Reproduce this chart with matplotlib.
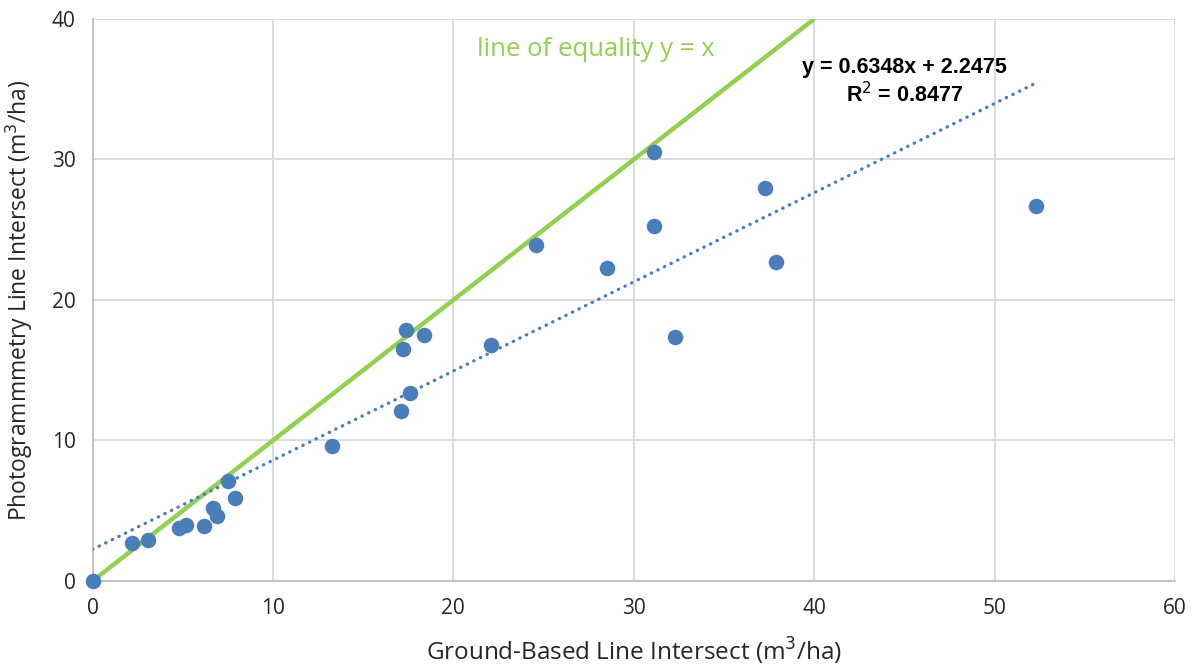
import matplotlib.pyplot as plt
import numpy as np

plt.rcParams['font.family'] = ['Open Sans', 'DejaVu Sans']

# ground-based vs photogrammetry line intersect volumes (m3/ha)
ground = [0.0, 2.2, 3.1, 4.8, 5.2, 6.2, 6.7, 6.9, 7.5, 7.9, 13.3, 17.1, 17.2,
          17.4, 17.6, 18.4, 22.1, 24.6, 28.5, 31.1, 31.1, 32.3, 37.3, 37.9, 52.3]
photo = [0.0, 2.7, 2.9, 3.8, 4.0, 3.9, 5.2, 4.6, 7.1, 5.9, 9.6, 12.1, 16.5,
         17.9, 13.4, 17.5, 16.8, 23.9, 22.3, 30.5, 25.3, 17.4, 28.0, 22.7, 26.7]

slope = 0.6348
intercept = 2.2475
r_squared = 0.8477

blue = '#4a7ebb'
green = '#92d050'
grey = '#d9d9d9'
text_col = '#262626'

fig = plt.figure(figsize=(11.97, 6.67), dpi=100)
ax = fig.add_axes([92.5 / 1197, 86 / 667, (1175 - 92.5) / 1197, (581 - 19) / 667])

ax.set_xlim(0, 60)
ax.set_ylim(0, 40)
ax.set_xticks(np.arange(0, 61, 10))
ax.set_yticks(np.arange(0, 41, 10))
ax.grid(True, color=grey, linewidth=1.3, zorder=0)
ax.set_axisbelow(True)
for side in ['top', 'right']:
    ax.spines[side].set_visible(False)
for side in ['left', 'bottom']:
    ax.spines[side].set_color('#bfbfbf')
    ax.spines[side].set_linewidth(1.3)
ax.tick_params(length=0, labelsize=15, colors=text_col, pad=12)

# line of equality
ax.plot([0, 40], [0, 40], color=green, linewidth=3.2, zorder=2,
        solid_capstyle='butt')

# linear trendline over data range
tx = np.array([0, max(ground)])
ax.plot(tx, slope * tx + intercept, color=blue, linewidth=2.4,
        linestyle=(0, (0.1, 2.1)), dash_capstyle='round', zorder=3)

ax.scatter(ground, photo, s=125, color=blue, zorder=4, linewidths=0,
           clip_on=False)

ax.text(27.9, 37.8, 'line of equality y = x', color=green, fontsize=18.5,
        ha='center', va='center')
ax.text(45.0, 35.5, f'y = {slope}x + {intercept}\nR$^2$ = {r_squared}',
        color='black', fontsize=15.5, fontweight='bold', ha='center',
        va='center', linespacing=1.2,
        family=['Liberation Sans', 'DejaVu Sans'])

ax.set_xlabel('Ground-Based Line Intersect (m$^3$/ha)', fontsize=17.5,
              color=text_col, labelpad=12)
ax.set_ylabel('Photogrammmetry Line Intersect (m$^3$/ha)', fontsize=16.5,
              color=text_col, labelpad=12)

fig.savefig('out.png', dpi=100)
